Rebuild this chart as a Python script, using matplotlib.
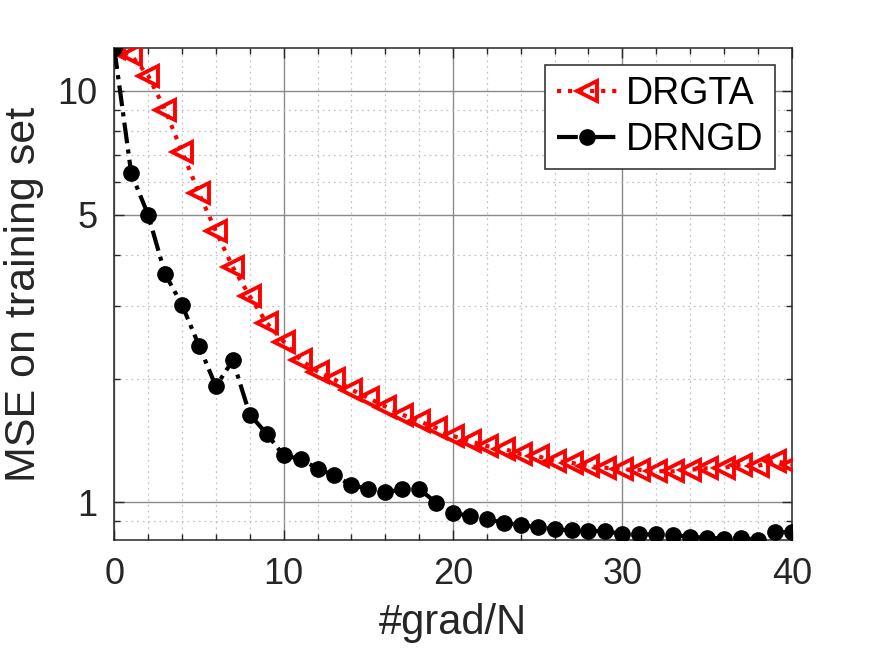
import matplotlib.pyplot as plt
import numpy as np
from matplotlib.ticker import FixedLocator, NullFormatter

plt.rcParams['font.family'] = ['Liberation Sans', 'DejaVu Sans']

grads = list(range(41))
drgta = [12.7, 12.2, 10.9, 9.0, 7.12, 5.65, 4.56, 3.73, 3.17, 2.73,
         2.46, 2.22, 2.08, 1.99, 1.88, 1.795, 1.71, 1.635, 1.575, 1.517,
         1.45, 1.41, 1.37, 1.35, 1.31, 1.295, 1.26, 1.248, 1.225, 1.214,
         1.202, 1.2, 1.191, 1.19, 1.2, 1.21, 1.214, 1.236, 1.226, 1.26,
         1.236]
drngd = [12.7, 6.31, 5.0, 3.59, 3.02, 2.405, 1.915, 2.216, 1.635, 1.468,
         1.30, 1.276, 1.207, 1.163, 1.10, 1.079, 1.059, 1.075, 1.079, 0.998,
         0.944, 0.926, 0.909, 0.893, 0.880, 0.871, 0.860, 0.855, 0.852, 0.852,
         0.836, 0.836, 0.836, 0.833, 0.824, 0.821, 0.816, 0.821, 0.810, 0.847,
         0.847]

axcol = '#262626'
fig = plt.figure(figsize=(8.75, 6.56), dpi=100)
ax = fig.add_axes([0.1306, 0.1768, 0.7742, 0.7496])

ax.plot(grads, drgta, ls=':', color='red', lw=3.0, marker='<', ms=14,
        mfc='none', mec='red', mew=2.8, label='DRGTA', zorder=3)
ax.plot(grads, drngd, ls=(0, (5, 1.5, 1, 1.5)), color='black', lw=3.0,
        marker='o', ms=11, mfc='black', mec='black', label='DRNGD', zorder=4)

ax.set_yscale('log')
ax.set_xlim(0, 40)
ax.set_ylim(min(drngd), max(drgta))
ax.set_xticks([0, 10, 20, 30, 40])
ax.xaxis.set_minor_locator(FixedLocator([v for v in range(0, 41, 2) if v % 10]))
ax.yaxis.set_major_locator(FixedLocator([1, 5, 10]))
ax.yaxis.set_major_formatter(plt.FuncFormatter(lambda v, p: '%g' % v))
ax.yaxis.set_minor_locator(FixedLocator([0.9, 2, 3, 4, 6, 7, 8, 9]))
ax.yaxis.set_minor_formatter(NullFormatter())

ax.grid(True, which='major', color='#8a8a8a', lw=1.0, ls='-')
ax.grid(True, which='minor', color='#c4c4c4', lw=0.9, ls=(0, (1.5, 3)))
ax.set_axisbelow(True)

ax.tick_params(which='both', direction='in', top=True, right=True,
               colors=axcol, labelcolor=axcol, width=1.0)
ax.tick_params(which='major', length=7, labelsize=26, pad=12)
ax.tick_params(which='minor', length=4)
for s in ax.spines.values():
    s.set_color(axcol)
    s.set_linewidth(1.1)

ax.set_xlabel('#grad/N', fontsize=30, color=axcol, labelpad=8)
ax.set_ylabel('MSE on training set', fontsize=31, color=axcol, labelpad=10)

leg = ax.legend(loc='upper right', fontsize=27, frameon=True, fancybox=False,
                borderaxespad=0.45, handlelength=1.6, handletextpad=0.25,
                borderpad=0.3, labelspacing=0.25)
leg.get_frame().set_edgecolor(axcol)
leg.get_frame().set_linewidth(1.1)
leg.get_frame().set_alpha(1)

fig.savefig('out.png', dpi=100)
